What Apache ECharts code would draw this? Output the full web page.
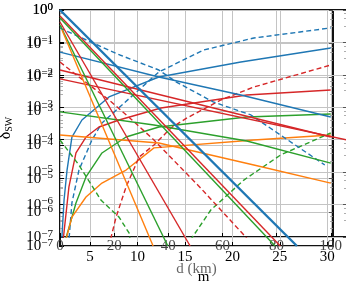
<!DOCTYPE html>
<html><head><meta charset="utf-8">
<script src="https://cdn.jsdelivr.net/npm/echarts@6/dist/echarts.min.js"></script>
<style>html,body{margin:0;padding:0;background:#fff}#c{width:346px;height:285px}</style>
</head><body><div id="c"></div>
<script>
// ---- tick values ----
const kmTicks = [5, 10, 15, 20, 25, 30];
const mTicks = [0, 20, 40, 60, 80, 100];
// ---- panel A: d in km, straight exponential decays ----
const aBlue = [[1.84, 1], [26.8, 1e-7]];
const aRed1 = [[1.84, 0.66], [25.05, 1e-7]];
const aGreen1 = [[1.84, 0.58], [24.5, 1e-7]];
const aRed2 = [[1.84, 0.44], [15.55, 1e-7]];
const aGreen2 = [[1.84, 0.36], [13.2, 1e-7]];
const aOrange1 = [[2.05, 0.255], [11.65, 1e-7]];
// ---- panel B: d in m ----
const bBlueUp = [[0.5, 5e-8], [1.5, 1.38e-6], [2.6, 1.16e-5], [4.4, 1.21e-4], [8.1, 4.06e-4], [18.1, 2.08e-3], [36.5, 8.6e-3], [66.8, 0.0249], [100, 0.0673]];
const bBlueUpDash = [[2.9, 3e-8], [4.4, 1.12e-6], [7.0, 1.16e-5], [11.8, 9.8e-5], [15.5, 3.28e-4], [22.9, 1.18e-3], [36.5, 0.01225], [53.1, 0.0584], [71.6, 0.137], [100, 0.28]];
const bRedUp = [[0.9, 5e-8], [3.3, 3.5e-6], [5.9, 3.9e-5], [9.6, 1.21e-4], [14.4, 2.47e-4], [21.8, 4.06e-4], [37.3, 9.5e-4], [69, 2.39e-3], [100, 3.41e-3]];
const bGreenUp = [[1.3, 5e-8], [5.9, 1.12e-6], [9.6, 7.1e-6], [15.5, 3.9e-5], [24.4, 1.21e-4], [36.5, 2.47e-4], [69, 5.0e-4], [100, 6.2e-4]];
const bOrangeUp = [[1.5, 5e-8], [4.4, 4.1e-7], [9.6, 1.71e-6], [15.5, 4.6e-6], [24.4, 1.16e-5], [34.7, 5.6e-5], [71.6, 9.8e-5], [100, 1.4e-4]];
const bRedUpDash = [[18.0, 5e-8], [20.7, 4.1e-7], [24.4, 3.5e-6], [29.2, 2.9e-5], [34.7, 6.9e-5], [41.0, 2.3e-4], [46.9, 4.7e-4], [59.4, 1.68e-3], [71.6, 4.22e-3], [100, 0.0201]];
const bGreenUpDash = [[46.5, 5e-8], [55.7, 6.8e-7], [67.9, 5.7e-6], [81.5, 3.4e-5], [100, 1.61e-4]];
const bBlueDownDash = [[0, 0.28], [3.1, 0.21], [22.1, 0.041], [36.5, 0.0141], [43.0, 6.0e-3], [56.6, 1.46e-3], [70.5, 5.8e-4], [97.8, 1.66e-5]];
const bRedDownDash = [[0, 0.0249], [7.0, 8.6e-3], [18.1, 1.68e-3], [26.6, 4.06e-4], [34.7, 9.8e-5], [52.0, 3.2e-6], [68.6, 1e-7], [70.5, 6e-8]];
const bGreenDownDash = [[0, 9.8e-5], [7.0, 1.66e-5], [15.1, 1.38e-6], [21.8, 4.1e-7], [25.5, 1.33e-7], [26.2, 6e-8]];
const bBlueDown = [[0, 0.05], [36.5, 8.6e-3], [66.8, 2.39e-3], [100, 5.0e-4]];
const bRedDown = [[0, 0.0141], [100, 1.21e-4]];
const bRedDown2 = [[0, 0.0075], [106, 9.8e-5]];
const bGreenDown = [[0, 7.2e-4], [34.7, 2.84e-4], [69, 9.1e-5], [100, 1.9e-5]];
const bOrangeDown = [[0, 1.4e-4], [36.5, 7.9e-5], [71.6, 1.66e-5], [100, 4.6e-6]];

const C = {blue: '#1f77b4', orange: '#ff7f0e', green: '#2ca02c', red: '#d62728'};
const SERIF = 'Liberation Serif';

function sup(v) {
  const e = Math.round(Math.log10(v));
  const s = e < 0 ? '\u2212' + (-e) : String(e);
  return '{a|10}{b|' + s + '}';
}
const yLabel = {
  formatter: sup, margin: 7, color: '#000',
  rich: {
    a: {fontFamily: SERIF, fontSize: 15, color: '#000'},
    b: {fontFamily: SERIF, fontSize: 11, color: '#000', padding: [0, 0, 6, 0]}
  }
};
const grid = {show: true, borderColor: '#111', borderWidth: 2, backgroundColor: 'transparent',
  containLabel: false, outerBoundsMode: 'none'};
const split = {show: true, lineStyle: {color: '#c4c4c4', width: 1}};
const minor = {show: true, splitNumber: 4, length: 3, lineStyle: {color: '#999', width: 0.8}};

function line(data, color, ax, dashed, width) {
  return {
    type: 'line', data: data, xAxisIndex: ax, yAxisIndex: ax, showSymbol: false, symbol: 'none',
    smooth: false, animation: false, silent: true,
    lineStyle: {color: color, width: width || 1.4, type: dashed ? [5, 3] : 'solid'}
  };
}
function rightAxis(g) {
  return {type: 'log', gridIndex: g, position: 'right', min: 1e-7, max: 1, logBase: 10, interval: 1,
    axisLine: {show: false}, splitLine: {show: false}, axisLabel: {show: false},
    axisTick: {show: true, inside: true, length: 4, lineStyle: {color: '#555'}}, minorTick: minor};
}

const chart = echarts.init(document.getElementById('c'), null, {renderer: 'canvas'});
chart.setOption({
  animation: false,
  grid: [
    Object.assign({left: 60, top: 10, width: 273, height: 236}, grid),
    Object.assign({left: 60, top: 10, width: 287, height: 227}, grid)
  ],
  xAxis: [
    {type: 'value', gridIndex: 0, min: 1.84, max: 30.6,
     axisLine: {show: false}, splitLine: split,
     axisTick: {show: true, inside: true, length: 4, customValues: kmTicks, lineStyle: {color: '#000'}},
     axisLabel: {customValues: kmTicks, fontFamily: SERIF, fontSize: 15, color: '#000', margin: 4},
     name: 'd (km)', nameLocation: 'middle', nameGap: 16, nameMoveOverlap: false,
     nameTextStyle: {fontFamily: SERIF, fontSize: 15, color: '#666'}},
    {type: 'value', gridIndex: 1, min: 0, max: 106, interval: 20,
     axisLine: {show: false}, splitLine: split,
     axisTick: {show: true, inside: true, length: 4, lineStyle: {color: '#000'}},
     axisLabel: {fontFamily: SERIF, fontSize: 15, color: '#444', margin: 2, showMaxLabel: false},
     name: 'm', nameLocation: 'middle', nameGap: 33, nameMoveOverlap: false,
     nameTextStyle: {fontFamily: SERIF, fontSize: 15, color: '#000'}}
  ],
  yAxis: [
    {type: 'log', gridIndex: 0, min: 1e-7, max: 1, logBase: 10, interval: 1,
     axisLine: {show: false}, splitLine: split,
     axisTick: {show: true, inside: true, length: 4, lineStyle: {color: '#000'}},
     minorTick: minor,
     axisLabel: yLabel,
     name: '{d|\u03b4}{s|SW}', nameLocation: 'middle', nameGap: 46, nameRotate: 90, nameMoveOverlap: false,
     nameTextStyle: {rich: {d: {fontFamily: SERIF, fontSize: 16, color: '#000'}, s: {fontFamily: SERIF, fontSize: 10, color: '#000', padding: [6, 0, 0, 0]}}}},
    {type: 'log', gridIndex: 1, min: 1e-7, max: 1, logBase: 10, interval: 1,
     axisLine: {show: false}, splitLine: split,
     axisTick: {show: true, inside: true, length: 4, lineStyle: {color: '#000'}},
     minorTick: minor,
     axisLabel: yLabel},
    rightAxis(0), rightAxis(1)
  ],
  series: [
    line(bBlueUp, C.blue, 1), line(bBlueUpDash, C.blue, 1, true),
    line(bRedUp, C.red, 1), line(bGreenUp, C.green, 1), line(bOrangeUp, C.orange, 1),
    line(bRedUpDash, C.red, 1, true), line(bGreenUpDash, C.green, 1, true),
    line(bBlueDownDash, C.blue, 1, true), line(bRedDownDash, C.red, 1, true), line(bGreenDownDash, C.green, 1, true),
    line(bBlueDown, C.blue, 1), line(bRedDown, C.red, 1), line(bRedDown2, C.red, 1), line(bGreenDown, C.green, 1), line(bOrangeDown, C.orange, 1),
    line(aRed1, C.red, 0), line(aGreen1, C.green, 0), line(aRed2, C.red, 0), line(aGreen2, C.green, 0), line(aOrange1, C.orange, 0),
    line(aBlue, C.blue, 0, false, 2.4)
  ]
});
</script></body></html>
